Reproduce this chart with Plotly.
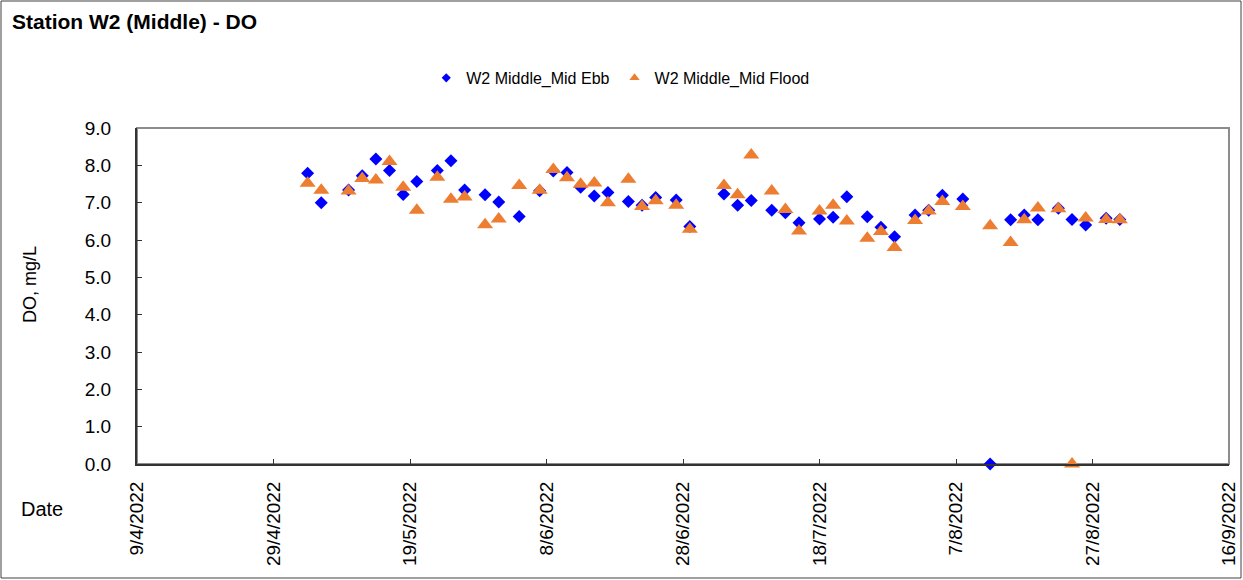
import plotly.graph_objects as go

dates = ["2022-05-04", "2022-05-06", "2022-05-10", "2022-05-12", "2022-05-14", "2022-05-16",
         "2022-05-18", "2022-05-20", "2022-05-23", "2022-05-25", "2022-05-27", "2022-05-30",
         "2022-06-01", "2022-06-04", "2022-06-07", "2022-06-09", "2022-06-11", "2022-06-13",
         "2022-06-15", "2022-06-17", "2022-06-20", "2022-06-22", "2022-06-24", "2022-06-27",
         "2022-06-29", "2022-07-04", "2022-07-06", "2022-07-08", "2022-07-11", "2022-07-13",
         "2022-07-15", "2022-07-18", "2022-07-20", "2022-07-22", "2022-07-25", "2022-07-27",
         "2022-07-29", "2022-08-01", "2022-08-03", "2022-08-05", "2022-08-08", "2022-08-12",
         "2022-08-15", "2022-08-17", "2022-08-19", "2022-08-22", "2022-08-24", "2022-08-26",
         "2022-08-29", "2022-08-31"]

ebb = [7.79, 7.00, 7.34, 7.72, 8.17, 7.86, 7.22, 7.57, 7.86, 8.12, 7.34, 7.21,
       7.02, 6.63, 7.32, 7.85, 7.81, 7.41, 7.18, 7.27, 7.03, 6.93, 7.14, 7.07,
       6.36, 7.23, 6.93, 7.06, 6.80, 6.73, 6.46, 6.56, 6.61, 7.16, 6.62, 6.34,
       6.09, 6.67, 6.80, 7.20, 7.10, 0.00, 6.54, 6.67, 6.54, 6.85, 6.55, 6.40,
       6.58, 6.55]

flood = [7.52, 7.33, 7.31, 7.65, 7.61, 8.10, 7.41, 6.80, 7.68, 7.09, 7.15, 6.41,
         6.56, 7.46, 7.33, 7.89, 7.67, 7.49, 7.53, 7.00, 7.63, 6.90, 7.05, 6.93,
         6.29, 7.46, 7.21, 8.28, 7.31, 6.82, 6.24, 6.78, 6.93, 6.51, 6.05, 6.23,
         5.80, 6.52, 6.78, 7.03, 6.90, 6.38, 5.93, 6.54, 6.86, 6.84, 0.00, 6.59,
         6.55, 6.54]

tick_dates = ["2022-04-09", "2022-04-29", "2022-05-19", "2022-06-08", "2022-06-28",
              "2022-07-18", "2022-08-07", "2022-08-27", "2022-09-16"]
tick_labels = ["9/4/2022", "29/4/2022", "19/5/2022", "8/6/2022", "28/6/2022",
               "18/7/2022", "7/8/2022", "27/8/2022", "16/9/2022"]
y_ticks = [0, 1, 2, 3, 4, 5, 6, 7, 8, 9]
y_labels = ["0.0", "1.0", "2.0", "3.0", "4.0", "5.0", "6.0", "7.0", "8.0", "9.0"]

FONT = "Liberation Sans, Arial, sans-serif"
BLUE = "#0000FF"
ORANGE = "#ED7D31"

fig = go.Figure()
fig.add_trace(go.Scatter(
    x=dates, y=ebb, mode="markers", name="W2 Middle_Mid Ebb", showlegend=False,
    cliponaxis=False,
    marker=dict(symbol="diamond", size=10, color=BLUE, line=dict(width=0))
))
fig.add_trace(go.Scatter(
    x=dates, y=flood, mode="markers", name="W2 Middle_Mid Flood", showlegend=False,
    cliponaxis=False,
    marker=dict(symbol="triangle-up", size=14, color=ORANGE, line=dict(width=0))
))
# legend entries with small symbols, as in the reference
fig.add_trace(go.Scatter(
    x=[None], y=[None], mode="markers", name="W2 Middle_Mid Ebb",
    marker=dict(symbol="diamond", size=7, color=BLUE, line=dict(width=0))
))
fig.add_trace(go.Scatter(
    x=[None], y=[None], mode="markers", name="W2 Middle_Mid Flood",
    marker=dict(symbol="triangle-up", size=9, color=ORANGE, line=dict(width=0))
))

fig.update_layout(
    width=1243, height=580,
    margin=dict(l=137, r=14, t=128, b=116, autoexpand=False),
    paper_bgcolor="white", plot_bgcolor="white",
    font=dict(family=FONT, color="black"),
    title=dict(text="<b>Station W2 (Middle) - DO</b>", x=12/1243, xanchor="left",
               xref="container", yref="container", y=1 - 22/580, yanchor="middle",
               font=dict(size=21, family=FONT, color="black")),
    showlegend=True,
    legend=dict(orientation="h", x=0.443, xanchor="center", y=1.149, yanchor="middle",
                font=dict(size=16, family=FONT), bgcolor="rgba(0,0,0,0)",
                itemwidth=30, tracegroupgap=0),
    xaxis=dict(
        type="date", range=["2022-04-09", "2022-09-16"],
        tickvals=tick_dates, ticktext=tick_labels, tickangle=-90,
        ticks="inside", ticklen=5, tickcolor="#333333",
        showline=True, linecolor="#333333", linewidth=2,
        showgrid=False, zeroline=False,
        tickfont=dict(size=19, family=FONT), ticklabelstandoff=8,
    ),
    yaxis=dict(
        range=[0, 9], tickvals=y_ticks, ticktext=y_labels,
        ticks="inside", ticklen=5, tickcolor="#333333",
        showline=True, linecolor="#333333", linewidth=2,
        showgrid=False, zeroline=False,
        tickfont=dict(size=19, family=FONT), ticklabelstandoff=20,
    ),
)

# grey frame on top and right of plot area
fig.add_shape(type="rect", xref="paper", yref="paper", x0=0, x1=1, y0=0, y1=1,
              line=dict(color="#8C8C8C", width=2), layer="below")
# outer chart border
fig.add_shape(type="rect", xref="paper", yref="paper",
              x0=(1 - 137) / 1092, x1=(1241 - 137) / 1092,
              y0=(464 - 578) / 336, y1=(464 - 1) / 336,
              line=dict(color="#404040", width=1), layer="below")

fig.add_annotation(text="DO, mg/L", xref="paper", yref="paper",
                   x=(30 - 137) / 1092, y=(464 - 285) / 336, textangle=-90,
                   showarrow=False, font=dict(size=18, family=FONT),
                   xanchor="center", yanchor="middle")
fig.add_annotation(text="Date", xref="paper", yref="paper",
                   x=(42 - 137) / 1092, y=(464 - 509) / 336,
                   showarrow=False, font=dict(size=20, family=FONT),
                   xanchor="center", yanchor="middle")

fig.write_html("out.html", config={"displayModeBar": False},
               post_script="document.body.style.margin='0';")
